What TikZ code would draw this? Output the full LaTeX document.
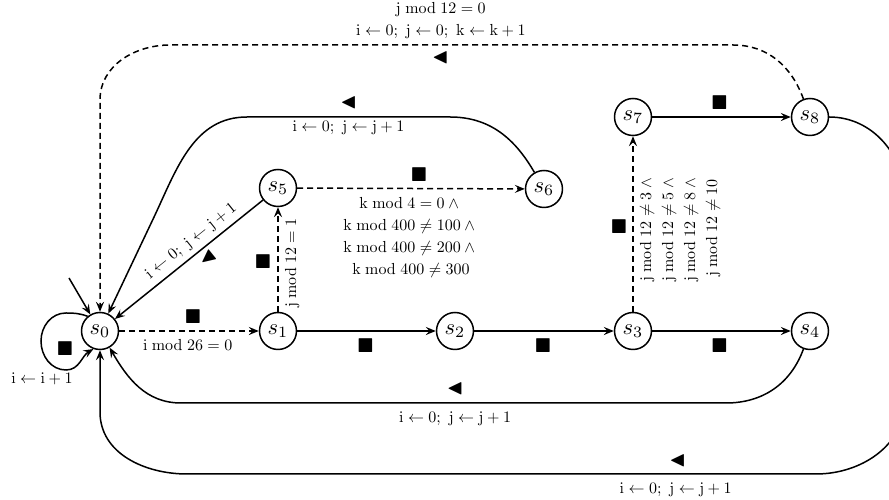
\documentclass[tikz,border=0pt]{standalone}
\usepackage{amssymb}
\usetikzlibrary{arrows.meta}
\newcommand\lblfont{\fontsize{10}{13.75}\selectfont}
\newcommand\sqmark{{\fontsize{7.3}{8}\selectfont$\blacksquare$}}
\newcommand\trimark{{\fontsize{7.6}{8}\selectfont$\blacktriangleleft$}}
\newcommand\rmv[1]{\mathrm{#1}}
\begin{document}
\begin{tikzpicture}[x=0.4pt,y=0.4pt,
  >={Stealth[length=4pt,width=3.2pt,inset=1.5pt]},
  state/.style={circle,draw,line width=0.6pt,minimum size=16.44pt,inner sep=0pt,
                font=\normalsize,scale=0.9,transform shape},
  conn/.style={->,line width=0.6pt},
  dconn/.style={conn,dash pattern=on 2.4pt off 1.6pt},
  lbl/.style={font=\lblfont,inner sep=0pt,align=center,scale=0.64,transform shape},
  mk/.style={inner sep=0pt}]
\useasboundingbox (0,0) rectangle (889,500);
\clip (0,0) rectangle (889,500);

% states
\node[state] (s0) at (100,169) {$s_0$};
\node[state] (s1) at (278,169) {$s_1$};
\node[state] (s2) at (455,169) {$s_2$};
\node[state] (s3) at (633,169) {$s_3$};
\node[state] (s4) at (810,169) {$s_4$};
\node[state] (s5) at (278,312) {$s_5$};
\node[state] (s6) at (544,311) {$s_6$};
\node[state] (s7) at (633,383) {$s_7$};
\node[state] (s8) at (810,383) {$s_8$};

% initial arrow
\coordinate (init) at (69,222);
\draw[conn] (init) -- (s0);

% self loop
\draw[conn] (s0.130) to[out=160,in=0] (66,187) to[out=180,in=90] (41,159)
                     to[out=-90,in=180] (66,130) to[out=0,in=210] (s0.250);
\node[mk] (mloop) at (65,151) {\sqmark};
\node[lbl] (lloop) at (42,121) {$\rmv{i} \leftarrow \rmv{i} + 1$};

% s0 -> s1
\draw[dconn] (s0) -- (s1)
  node[mk,midway,shift={(4,14)}] (m01) {\sqmark}
  node[lbl,midway,shift={(-2,-22)}] (l01) {$\rmv{i} \bmod 26 = 0$};

% main row
\draw[conn] (s1) -- (s2) node[mk,midway,shift={(-1,-15)}] (m12) {\sqmark};
\draw[conn] (s2) -- (s3) node[mk,midway,shift={(-1,-15)}] (m23) {\sqmark};
\draw[conn] (s3) -- (s4) node[mk,midway,shift={(-2,-15)}] (m34) {\sqmark};

% s1 -> s5
\draw[dconn] (s1) -- (s5) node[mk,midway,shift={(-15,-2)}] (m15) {\sqmark};
\node[lbl,rotate=90] (l15) at (292,237) {$\rmv{j} \bmod 12 = 1$};

% s5 -> s6
\draw[dconn] (s5) -- (s6)
  node[mk,midway,shift={(8,14)}] (m56) {\sqmark};
\node[lbl] (l56) at (411,262) {$\rmv{k} \bmod 4 = 0 \wedge{}$\\
     $\rmv{k} \bmod 400 \neq 100 \wedge{}$\\
     $\rmv{k} \bmod 400 \neq 200 \wedge{}$\\
     $\rmv{k} \bmod 400 \neq 300$};

% s5 -> s0
\draw[conn] (s5) -- (s0)
  node[lbl,pos=0.43,sloped,above=3.4pt] (l50) {$\rmv{i} \leftarrow 0;\ \rmv{j} \leftarrow \rmv{j} + 1$}
  node[mk,pos=0.42,sloped,below=1.5pt] (m50) {\trimark};

% s6 -> s0
\draw[conn] (s6) to[out=120,in=0] (450,383) -- (247,383)
  node[mk,pos=0.5,shift={(0,14)}] (m60) {\trimark}
  node[lbl,pos=0.5,shift={(0,-17.5)}] (l60) {$\rmv{i} \leftarrow 0;\ \rmv{j} \leftarrow \rmv{j} + 1$}
  to[out=180,in=65] (155,285) -- (s0);

% s8 -> s0 (dashed)
\draw[dconn] (s8) to[out=110,in=0] (733,455) -- (170,455)
  node[mk,pos=0.52,shift={(0,-13)}] (m80) {\trimark}
  node[lbl,pos=0.52,shift={(1,38.5)}] (l80) {$\rmv{j} \bmod 12 = 0$\\
     $\rmv{i} \leftarrow 0;\ \rmv{j} \leftarrow 0;\ \rmv{k} \leftarrow \rmv{k} + 1$}
  to[out=180,in=90] (100,400) -- (s0);

% s3 -> s7
\draw[dconn] (s3) -- (s7)
  node[mk,midway,shift={(-14,-3)}] (m37) {\sqmark};
\node[lbl,rotate=90] (l37) at (680,272) {$\rmv{j} \bmod 12 \neq 3 \wedge{}$\\
     $\rmv{j} \bmod 12 \neq 5 \wedge{}$\\
     $\rmv{j} \bmod 12 \neq 8 \wedge{}$\\
     $\rmv{j} \bmod 12 \neq 10$};

% s7 -> s8
\draw[conn] (s7) -- (s8) node[mk,midway,shift={(-2,14)}] (m78) {\sqmark};

% s4 -> s0
\draw[conn] (s4) to[out=-110,in=0] (726,97) -- (181,97)
  node[mk,pos=0.497,shift={(0,14)}] (m40) {\trimark}
  node[lbl,pos=0.497,shift={(0,-24.8)}] (l40) {$\rmv{i} \leftarrow 0;\ \rmv{j} \leftarrow \rmv{j} + 1$}
  to[out=180,in=-60] (s0);

% s8 -> s0 (big outer)
\draw[conn] (s8) to[out=0,in=90] (905,300) -- (905,100) to[out=-90,in=0] (816,26) -- (187,26)
  node[mk,pos=0.22,shift={(0,13)}] (m8b) {\trimark}
  node[lbl,pos=0.22,shift={(-3,-24.2)}] (l8b) {$\rmv{i} \leftarrow 0;\ \rmv{j} \leftarrow \rmv{j} + 1$}
  to[out=180,in=-90] (100,88) -- (s0);
\end{tikzpicture}
\end{document}
